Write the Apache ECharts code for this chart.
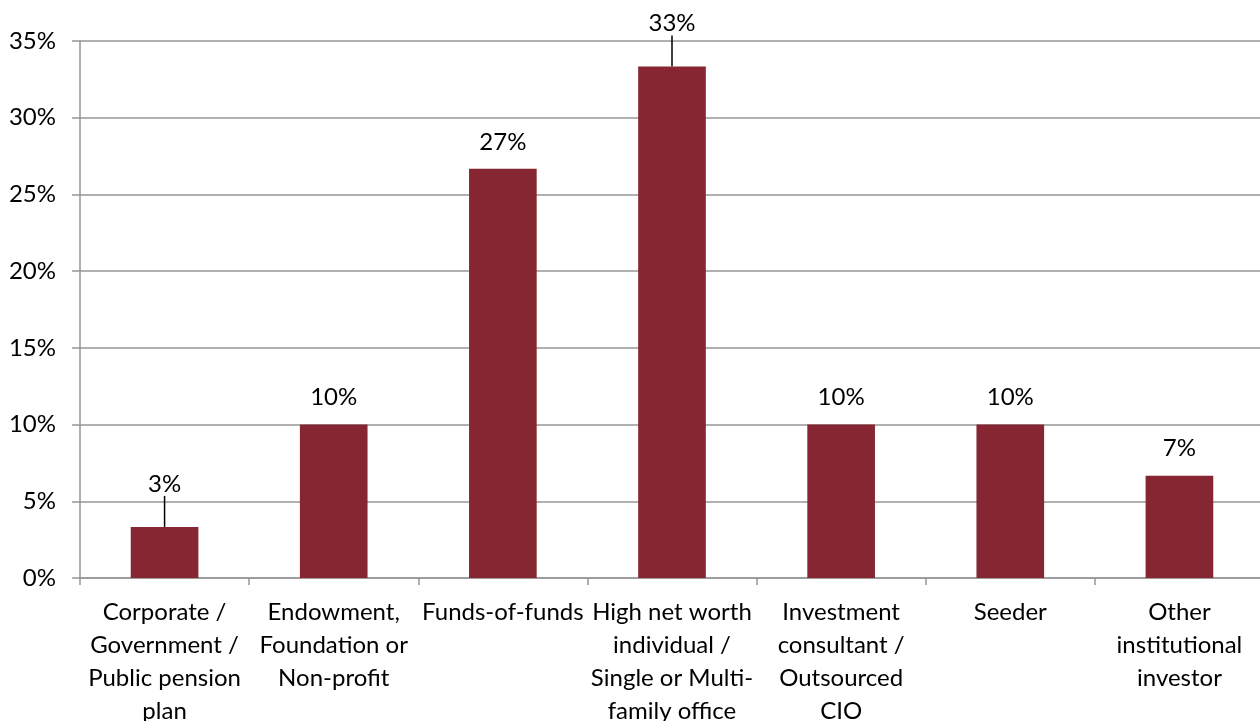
<!DOCTYPE html>
<html>
<head>
<meta charset="utf-8">
<script src="https://cdn.jsdelivr.net/npm/echarts@6/dist/echarts.min.js"></script>
<style>
  html, body { margin: 0; padding: 0; background: #ffffff; }
  #chart { width: 1260px; height: 721px; }
</style>
</head>
<body>
<div id="chart"></div>
<script>
// Investor type categories (x axis)
const categories = [
  'Corporate /\nGovernment /\nPublic pension\nplan',
  'Endowment,\nFoundation or\nNon-profit',
  'Funds-of-funds',
  'High net worth\nindividual /\nSingle or Multi-\nfamily office',
  'Investment\nconsultant /\nOutsourced\nCIO',
  'Seeder',
  'Other\ninstitutional\ninvestor'
];

// Share of respondents, percent
const shares = [3.33, 10, 26.67, 33.33, 10, 10, 6.67];

// Y axis ticks: 0% to 35% every 5%
const yMin = 0;
const yMax = 35;
const yStep = 5;

// Labels raised above their bars with a leader line
const raisedLabels = [0, 3];

const FONT = 'Lato, "Open Sans", sans-serif';
const GRID_COLOR = '#969696';

const chart = echarts.init(document.getElementById('chart'));

const barData = shares.map((v, i) => ({
  value: v,
  labelLine: { show: raisedLabels.includes(i) }
}));

chart.setOption({
  animation: false,
  backgroundColor: '#ffffff',
  grid: {
    left: 80, right: -4, top: 41, bottom: 143,
    containLabel: false,
    outerBoundsMode: 'none'
  },
  xAxis: {
    type: 'category',
    data: categories,
    axisLine: { show: true, lineStyle: { color: GRID_COLOR, width: 1.5 } },
    axisTick: { show: true, alignWithLabel: false, length: 7, lineStyle: { color: GRID_COLOR, width: 1.5 } },
    axisLabel: {
      interval: 0,
      color: '#000000',
      fontFamily: FONT,
      fontSize: 24,
      lineHeight: 33,
      margin: 18,
      align: 'center',
      hideOverlap: false
    }
  },
  yAxis: {
    type: 'value',
    min: yMin,
    max: yMax,
    interval: yStep,
    axisLine: { show: true, lineStyle: { color: GRID_COLOR, width: 1.5 } },
    axisTick: { show: true, length: 8, lineStyle: { color: GRID_COLOR, width: 1.5 } },
    splitLine: { show: true, lineStyle: { color: GRID_COLOR, width: 1.5 } },
    axisLabel: {
      color: '#000000',
      fontFamily: FONT,
      fontSize: 24,
      margin: 24,
      formatter: v => v + '%'
    }
  },
  series: [{
    type: 'bar',
    data: barData,
    barWidth: '40%',
    itemStyle: { color: '#862633' },
    label: {
      show: true,
      position: 'top',
      distance: 15,
      color: '#000000',
      fontFamily: FONT,
      fontSize: 24,
      formatter: p => Math.round(p.value) + '%'
    },
    labelLine: {
      show: false,
      lineStyle: { color: '#000000', width: 1.5 }
    },
    labelLayout: p => raisedLabels.includes(p.dataIndex) ? { dy: -16 } : {}
  }]
});
</script>
</body>
</html>
